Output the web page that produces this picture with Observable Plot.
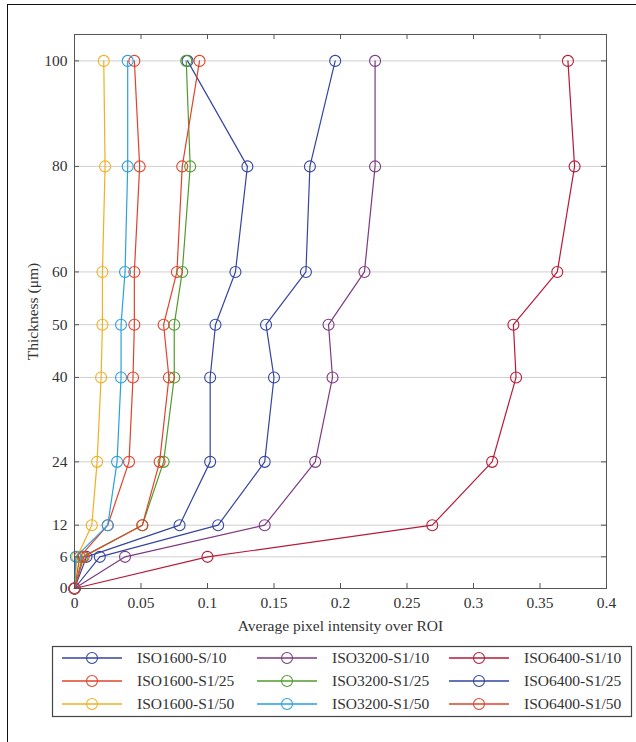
<!DOCTYPE html>
<html>
<head>
<meta charset="utf-8">
<script src="https://cdn.jsdelivr.net/npm/d3@7"></script>
<script src="https://cdn.jsdelivr.net/npm/@observablehq/plot@0.6"></script>
<style>
  html, body { margin: 0; padding: 0; background: #fff; }
  #wrap { position: relative; width: 636px; height: 742px; overflow: hidden; background: #fff; }
  #border { position: absolute; left: 7px; top: 4px; width: 700px; height: 800px; border-left: 1.5px solid #111; border-top: 1.5px solid #111; }
  #chart { position: absolute; left: 0; top: 0; }
  #legend { position: absolute; left: 0; top: 0; }
</style>
</head>
<body>
<div id="wrap">
  <div id="border"></div>
  <div id="chart"></div>
  <svg id="legend" width="636" height="742"></svg>
</div>
<script>
// ---- data ----
const thickness = [0, 6, 12, 24, 40, 50, 60, 80, 100];
const seriesNames = [
  "ISO1600-S/10", "ISO1600-S1/25", "ISO1600-S1/50",
  "ISO3200-S1/10", "ISO3200-S1/25", "ISO3200-S1/50",
  "ISO6400-S1/10", "ISO6400-S1/25", "ISO6400-S1/50"
];
const seriesColors = [
  "#3545a0", "#e0432b", "#efb022",
  "#7d3a82", "#4f9c2c", "#2a9fe0",
  "#b81a3a", "#3545a0", "#e0432b"
];
const iso1600_s10  = [0, 0.009, 0.079, 0.102, 0.102, 0.106, 0.121, 0.130, 0.085];
const iso1600_s25  = [0, 0.004, 0.025, 0.041, 0.044, 0.045, 0.045, 0.049, 0.045];
const iso1600_s50  = [0, 0.002, 0.013, 0.017, 0.020, 0.021, 0.021, 0.023, 0.022];
const iso3200_s10  = [0, 0.038, 0.143, 0.181, 0.194, 0.191, 0.218, 0.226, 0.226];
const iso3200_s25  = [0, 0.006, 0.051, 0.067, 0.075, 0.075, 0.081, 0.087, 0.084];
const iso3200_s50  = [0, 0.001, 0.025, 0.032, 0.035, 0.035, 0.038, 0.040, 0.040];
const iso6400_s10  = [0, 0.100, 0.269, 0.314, 0.332, 0.330, 0.363, 0.376, 0.371];
const iso6400_s25  = [0, 0.019, 0.108, 0.143, 0.150, 0.144, 0.174, 0.177, 0.196];
const iso6400_s50  = [0, 0.007, 0.051, 0.064, 0.071, 0.067, 0.077, 0.081, 0.094];
const intensity = [iso1600_s10, iso1600_s25, iso1600_s50, iso3200_s10, iso3200_s25, iso3200_s50, iso6400_s10, iso6400_s25, iso6400_s50];
const xTicks = [0, 0.05, 0.1, 0.15, 0.2, 0.25, 0.3, 0.35, 0.4];
const yTicks = [0, 6, 12, 24, 40, 50, 60, 80, 100];
const xLabel = "Average pixel intensity over ROI";
const yLabel = "Thickness (μm)";

const rows = seriesNames.flatMap((s, i) => thickness.map((t, j) => ({series: s, t, v: intensity[i][j]})));

const W = 636, H = 640, mL = 74, mR = 30, mT = 34, mB = 52;
const fw = W - mL - mR, fh = H - mT - mB;
const font = "'Liberation Serif', 'Times New Roman', serif";
const fs = "15.5px";

const chart = Plot.plot({
  width: W, height: H,
  marginLeft: mL, marginRight: mR, marginTop: mT, marginBottom: mB,
  style: {fontFamily: font, fontSize: fs, color: "#333", background: "transparent"},
  x: {domain: [0, 0.4]},
  y: {domain: [0, 105]},
  color: {domain: seriesNames, range: seriesColors},
  marks: [
    Plot.gridY(yTicks, {stroke: "#cfcfcf", strokeOpacity: 1, strokeWidth: 1}),
    ...seriesNames.flatMap(s => [
      Plot.line(rows, {filter: d => d.series === s, x: "v", y: "t", stroke: "series", strokeWidth: 1.2}),
      Plot.dot(rows, {filter: d => d.series === s, x: "v", y: "t", stroke: "series", r: 5.5, strokeWidth: 1.1, fill: "none"})
    ]),
    Plot.frame({stroke: "#555", strokeWidth: 1}),
    Plot.tickX(xTicks, {x: d => d, insetTop: fh - 5, stroke: "#555"}),
    Plot.tickX(xTicks, {x: d => d, insetBottom: fh - 5, stroke: "#555"}),
    Plot.tickY(yTicks, {y: d => d, insetRight: fw - 5, stroke: "#555"}),
    Plot.tickY(yTicks, {y: d => d, insetLeft: fw - 5, stroke: "#555"}),
    Plot.axisX(xTicks, {label: null, tickSize: 0, tickPadding: 8, tickFormat: d => String(d), fill: "#333"}),
    Plot.axisY(yTicks, {label: null, tickSize: 0, tickPadding: 7, tickFormat: d => String(d), fill: "#333"}),
    Plot.text([xLabel], {text: d => d, frameAnchor: "bottom", dy: 42, fill: "#333"}),
    Plot.text([yLabel], {text: d => d, frameAnchor: "left", textAnchor: "middle", dx: -41, rotate: -90, fill: "#333"})
  ]
});
document.getElementById("chart").appendChild(chart);

// ---- legend ----
const lg = d3.select("#legend");
lg.append("rect").attr("x", 52.5).attr("y", 646.5).attr("width", 579).attr("height", 70)
  .attr("fill", "#fff").attr("stroke", "#444").attr("stroke-width", 1.2);
const colX = [62, 257, 449];
const rowY = [658, 681, 704];
seriesNames.forEach((s, i) => {
  const c = Math.floor(i / 3), r = i % 3;
  const x0 = colX[c], y = rowY[r];
  const g = lg.append("g");
  g.append("line").attr("x1", x0).attr("x2", x0 + 60).attr("y1", y).attr("y2", y)
    .attr("stroke", seriesColors[i]).attr("stroke-width", 1.3);
  g.append("circle").attr("cx", x0 + 30).attr("cy", y).attr("r", 5.5)
    .attr("fill", "none").attr("stroke", seriesColors[i]).attr("stroke-width", 1.1);
  g.append("text").attr("x", x0 + 75).attr("y", y).attr("dy", "0.35em")
    .attr("font-family", font).attr("font-size", fs).attr("fill", "#333").text(s);
});
</script>
</body>
</html>
